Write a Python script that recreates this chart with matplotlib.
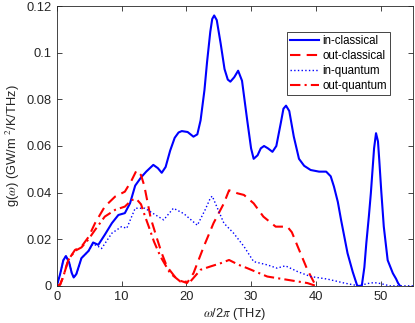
import matplotlib
matplotlib.use('Agg')
import matplotlib.pyplot as plt

plt.rcParams['font.family'] = ['Liberation Sans', 'DejaVu Sans']
plt.rcParams['mathtext.fontset'] = 'stix'

# in-classical (blue solid)
x_ic = [0, 0.5, 1.0, 1.4, 1.9, 2.3, 2.6, 3.0, 3.8, 4.9, 5.6, 6.4, 7.4, 8.5, 9.5, 10.5, 11.3,
        12.1, 13.0, 13.8, 14.9, 15.6, 16.2, 16.8, 17.5, 18.2, 18.8, 19.3, 20.2, 21.1, 21.7,
        22.2, 22.8, 23.2, 23.7, 24.0, 24.3, 24.7, 25.3, 25.9, 26.4, 26.8, 27.4, 28.0, 28.6,
        29.4, 30.0, 30.4, 31.0, 31.5, 32.0, 32.6, 33.3, 33.9, 34.6, 35.0, 35.4, 35.9, 36.6,
        37.4, 38.2, 39.2, 40.5, 41.6, 42.3, 42.8, 43.4, 43.9, 44.9, 45.7, 46.4, 47.1, 47.5,
        47.8, 48.2, 48.5, 49.0, 49.3, 49.6, 49.8, 50.1, 50.5, 51.1, 51.9, 52.4, 52.7, 53.0]
y_ic = [0, 0.005, 0.011, 0.0128, 0.010, 0.0055, 0.0036, 0.0050, 0.0119, 0.0150, 0.0186, 0.0176,
        0.0219, 0.0269, 0.0304, 0.0312, 0.0354, 0.0430, 0.0465, 0.0490, 0.0519, 0.0505, 0.0485,
        0.0510, 0.0580, 0.0635, 0.0658, 0.0664, 0.0660, 0.0640, 0.0650, 0.0710, 0.0840, 0.0960,
        0.1090, 0.1145, 0.1160, 0.1140, 0.1040, 0.0930, 0.0885, 0.0876, 0.0895, 0.0923, 0.0880,
        0.0711, 0.0590, 0.0545, 0.0560, 0.0590, 0.0600, 0.0590, 0.0575, 0.0600, 0.0700, 0.0760,
        0.0773, 0.0750, 0.0640, 0.0545, 0.0515, 0.0497, 0.0490, 0.0490, 0.0470, 0.0426, 0.0360,
        0.0283, 0.0140, 0.0060, 0, 0, 0.0080, 0.0183, 0.0300, 0.0397, 0.0590, 0.0655, 0.0620,
        0.0540, 0.0410, 0.0254, 0.0110, 0.0054, 0.0030, 0.0012, 0]

# out-classical (red dashed)
x_oc = [0, 0.5, 1.0, 1.75, 2.8, 3.8, 4.9, 5.9, 7.4, 9.0, 10.5, 11.5, 12.3, 13.0, 13.5, 14.0,
        14.5, 15.5, 16.2, 17.0, 18.6, 19.5, 20.1, 21.1, 22.7, 24.2, 25.8, 26.6, 27.2, 27.9,
        28.9, 30.4, 31.9, 33.8, 35.6, 36.3, 37.2, 38.7, 40.0]
y_oc = [0, 0.0005, 0.004, 0.011, 0.0154, 0.0168, 0.0210, 0.0269, 0.0340, 0.0383, 0.0404, 0.0450,
        0.0495, 0.0475, 0.0430, 0.0360, 0.0290, 0.0200, 0.0140, 0.0083, 0.0026, 0.0018, 0.0012,
        0.0054, 0.0169, 0.0269, 0.0354, 0.0410, 0.0405, 0.0397, 0.0390, 0.0354, 0.0297, 0.0254,
        0.0254, 0.0230, 0.0169, 0.0069, 0]

# in-quantum (blue dotted)
x_iq = [0, 0.5, 1.0, 1.4, 1.9, 2.3, 2.6, 3.0, 3.8, 4.9, 5.6, 6.4, 6.9, 8.5, 10.0, 10.8, 12.1,
        13.6, 14.9, 16.5, 18.0, 19.6, 21.7, 22.9, 23.7, 24.0, 24.7, 25.8, 27.3, 28.9, 30.4,
        32.5, 34.0, 35.3, 37.2, 39.2, 41.8, 44.4, 46.6, 48.0, 49.0, 50.0, 51.4, 53.0, 55.0]
y_iq = [0, 0.005, 0.011, 0.0128, 0.010, 0.0055, 0.0036, 0.0050, 0.0119, 0.0150, 0.0180, 0.0169,
        0.0160, 0.0226, 0.0254, 0.0247, 0.0333, 0.0333, 0.0310, 0.0283, 0.0333, 0.0310, 0.0260,
        0.0326, 0.0376, 0.0385, 0.0340, 0.0269, 0.0226, 0.0169, 0.0104, 0.0090, 0.0076, 0.0086,
        0.0061, 0.0040, 0.0029, 0.0012, 0, 0.0010, 0.0014, 0.0010, 0, 0, 0]

# out-quantum (red dash-dot)
x_oq = [0, 0.5, 1.0, 1.75, 2.8, 3.8, 4.9, 5.9, 7.4, 9.0, 10.5, 11.6, 12.4, 13.0, 13.6, 14.2,
        15.0, 16.0, 17.5, 19.1, 20.6, 22.2, 23.7, 25.3, 26.6, 28.1, 29.4, 32.5, 35.6, 38.7, 40.0]
y_oq = [0, 0.0005, 0.004, 0.011, 0.0150, 0.0165, 0.0200, 0.0240, 0.0297, 0.0326, 0.0340, 0.0369,
        0.0369, 0.0350, 0.0300, 0.0254, 0.0190, 0.0126, 0.0054, 0.0018, 0.0018, 0.0069, 0.0083,
        0.0097, 0.0111, 0.0090, 0.0076, 0.0040, 0.0026, 0.0012, 0]

fig = plt.figure(figsize=(4.15, 3.23), dpi=100)
ax = fig.add_axes([0.137, 0.115, 0.858, 0.866])

ax.plot(x_ic, y_ic, '-', color='b', lw=1.5, label='in-classical')
ax.plot(x_oc, y_oc, '--', color='r', lw=1.5, dashes=(5, 3), label='out-classical')
ax.plot(x_iq, y_iq, ':', color='b', lw=1.0, label='in-quantum')
ax.plot(x_oq, y_oq, '-.', color='r', lw=1.5, dashes=(5, 2, 1, 2), label='out-quantum')

ax.set_xlim(0, 55)
ax.set_ylim(0, 0.12)
ax.set_xticks([0, 10, 20, 30, 40, 50])
ax.set_yticks([0, 0.02, 0.04, 0.06, 0.08, 0.1, 0.12])
ax.set_yticklabels(['0', '0.02', '0.04', '0.06', '0.08', '0.1', '0.12'])
ax.tick_params(direction='in', top=True, right=True, length=3.5, width=0.6,
               labelsize=9.3, colors='#262626', pad=4)
for s in ax.spines.values():
    s.set_linewidth(0.6)
    s.set_color('#262626')

ax.set_xlabel('$\\omega$/2$\\pi$ (THz)', fontsize=9.3, color='#262626', labelpad=2)
ax.set_ylabel('g($\\omega$) (GW/m $^2$/K/THz)', fontsize=9.3, color='#262626', labelpad=3)

leg = ax.legend(loc='upper right', bbox_to_anchor=(0.935, 0.907), fontsize=8.3,
                handlelength=2.5, handletextpad=0.3, borderpad=0.25, labelspacing=0.25,
                fancybox=False, framealpha=1, borderaxespad=0)
leg.get_frame().set_edgecolor('#262626')
leg.get_frame().set_linewidth(0.6)

fig.savefig('out.png', dpi=100)
